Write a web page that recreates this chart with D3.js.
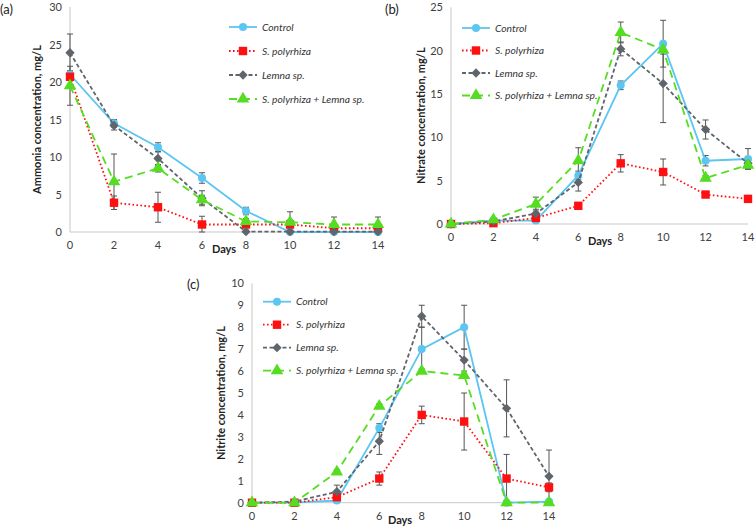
<!DOCTYPE html>
<html><head><meta charset="utf-8">
<script src="https://cdn.jsdelivr.net/npm/d3@7"></script>
<style>body{margin:0;background:#fff}svg{display:block}text{font-family:Lato,"Open Sans",sans-serif}</style>
</head><body>
<svg id="chart" width="756" height="529"></svg>
<script>
const days = [0, 2, 4, 6, 8, 10, 12, 14];
const seriesNames = ["Control", "S. polyrhiza", "Lemna sp.", "S. polyrhiza + Lemna sp."];

// (a) Ammonia
const ammoniaControl = [21.0, 14.5, 11.3, 7.2, 2.8, 0, 0, 0];
const ammoniaSpol    = [20.7, 3.9, 3.3, 1.0, 1.0, 1.0, 0.5, 0.5];
const ammoniaLemna   = [23.9, 14.2, 9.8, 4.5, 0.05, 0.05, 0.05, 0.05];
const ammoniaMix     = [19.5, 6.7, 8.5, 4.3, 1.4, 1.3, 1.0, 1.0];
const ammoniaControlErr = [0.5, 0.5, 0.6, 0.7, 0.5, 0.3, 0, 0];
const ammoniaSpolErr    = [0.5, 0.9, 2.0, 1.1, 0.3, 0.6, 0.3, 0.3];
const ammoniaLemnaErr   = [2.5, 0.6, 0.9, 1.0, 0.2, 0, 0, 0];
const ammoniaMixErr     = [2.6, 3.7, 0.5, 0.6, 0.4, 1.4, 1.0, 1.0];
const ammoniaTicks = [0, 5, 10, 15, 20, 25, 30];

// (b) Nitrate
const nitrateControl = [0, 0.4, 0.4, 5.6, 16.0, 20.8, 7.3, 7.5];
const nitrateSpol    = [0, 0.1, 0.7, 2.1, 7.0, 6.0, 3.4, 2.9];
const nitrateLemna   = [0, 0.3, 1.2, 4.8, 20.2, 16.2, 10.9, 7.0];
const nitrateMix     = [0, 0.5, 2.3, 7.3, 22.1, 20.1, 5.3, 6.8];
const nitrateControlErr = [0, 0.1, 0.2, 0.5, 0.5, 2.7, 0.6, 1.2];
const nitrateSpolErr    = [0, 0.1, 0.2, 0.3, 1.0, 1.5, 0.3, 0.2];
const nitrateLemnaErr   = [0, 0.1, 0.5, 1.0, 0.8, 4.5, 1.1, 0.5];
const nitrateMixErr     = [0, 0.2, 0.8, 1.5, 1.2, 0.5, 0.3, 0.4];
const nitrateTicks = [0, 5, 10, 15, 20, 25];

// (c) Nitrite
const nitriteControl = [0, 0, 0.1, 3.4, 7.0, 8.0, 0, 0.05];
const nitriteSpol    = [0, 0, 0.25, 1.1, 4.0, 3.7, 1.1, 0.7];
const nitriteLemna   = [0, 0.05, 0.5, 2.8, 8.5, 6.5, 4.3, 1.2];
const nitriteMix     = [0, 0, 1.4, 4.4, 6.0, 5.8, 0, 0];
const nitriteControlErr = [0, 0, 0.1, 0.2, 1.0, 1.0, 0, 0];
const nitriteSpolErr    = [0, 0, 0.1, 0.3, 0.4, 1.3, 1.1, 0.2];
const nitriteLemnaErr   = [0, 0, 0.3, 0.6, 0.5, 0.5, 1.3, 1.2];
const nitriteMixErr     = [0, 0, 0.1, 0.1, 0.1, 0.1, 0, 0];
const nitriteTicks = [0, 1, 2, 3, 4, 5, 6, 7, 8, 9, 10];

const styles = [
  {color: "#5bc6f2", dash: null, marker: "circle"},
  {color: "#ff1010", dash: "1.6,2.4", marker: "square"},
  {color: "#60656b", dash: "4,2.5", marker: "diamond"},
  {color: "#55dd22", dash: "8,5", marker: "triangle"}
];

const svg = d3.select("#chart");

function drawMarker(g, type, x, y, color) {
  if (type === "circle") g.append("circle").attr("cx", x).attr("cy", y).attr("r", 4).attr("fill", color);
  else if (type === "square") g.append("rect").attr("x", x - 4.2).attr("y", y - 4.2).attr("width", 8.4).attr("height", 8.4).attr("fill", color);
  else if (type === "diamond") g.append("path").attr("d", d3.symbol(d3.symbolDiamond2, 55)()).attr("transform", `translate(${x},${y})`).attr("fill", color);
  else g.append("path").attr("d", d3.symbol(d3.symbolTriangle, 68)()).attr("transform", `translate(${x},${y})`).attr("fill", color);
}

function panel(cfg) {
  const x = d3.scaleLinear().domain([0, 14]).range([cfg.x0, cfg.x1]);
  const y = d3.scaleLinear().domain([0, cfg.ymax]).range([cfg.y0, cfg.y1]);
  const g = svg.append("g");
  g.append("line").attr("x1", cfg.x0).attr("x2", cfg.x0).attr("y1", cfg.y0).attr("y2", cfg.y1).attr("stroke", "#c8c8c8").attr("stroke-width", 1);
  g.append("line").attr("x1", cfg.x0).attr("x2", cfg.x1).attr("y1", cfg.y0).attr("y2", cfg.y0).attr("stroke", "#c8c8c8").attr("stroke-width", 1);
  g.selectAll(".yt").data(cfg.yticks).enter().append("text")
    .attr("x", cfg.x0 - 8).attr("y", d => y(d) + 4).attr("text-anchor", "end")
    .attr("font-size", 11).attr("fill", "#404040").text(d => d);
  g.selectAll(".xt").data(days).enter().append("text")
    .attr("x", d => x(d)).attr("y", cfg.y0 + 17).attr("text-anchor", "middle")
    .attr("font-size", 11).attr("fill", "#404040").text(d => d);
  g.append("text").attr("x", cfg.daysX).attr("y", cfg.y0 + 21).attr("text-anchor", "middle")
    .attr("font-size", 11).attr("font-weight", "bold").attr("fill", "#222").text("Days");
  g.append("text").attr("transform", `translate(${cfg.titleX},${(cfg.y0 + cfg.y1) / 2}) rotate(-90)`)
    .attr("text-anchor", "middle").attr("font-size", 11).attr("font-weight", "bold").attr("fill", "#222").text(cfg.title);
  g.append("text").attr("x", cfg.labX).attr("y", cfg.labY).attr("font-size", 13).attr("fill", "#222").text(cfg.label);

  const line = d3.line().x((d, i) => x(days[i])).y(d => y(d));
  cfg.series.forEach((vals, si) => {
    const errs = cfg.errs[si];
    vals.forEach((v, i) => {
      const e = errs[i];
      if (e <= 0) return;
      const xe = x(days[i]);
      const lo = Math.max(0, v - e), hi = v + e;
      g.append("line").attr("x1", xe).attr("x2", xe).attr("y1", y(lo)).attr("y2", y(hi)).attr("stroke", "#555").attr("stroke-width", 1);
      [lo, hi].forEach(t => g.append("line").attr("x1", xe - 3).attr("x2", xe + 3).attr("y1", y(t)).attr("y2", y(t)).attr("stroke", "#555").attr("stroke-width", 1));
    });
  });
  cfg.series.forEach((vals, si) => {
    const st = styles[si];
    const p = g.append("path").datum(vals).attr("d", line).attr("fill", "none")
      .attr("stroke", st.color).attr("stroke-width", 1.8);
    if (st.dash) p.attr("stroke-dasharray", st.dash);
    vals.forEach((v, i) => drawMarker(g, st.marker, x(days[i]), y(v), st.color));
  });
  seriesNames.forEach((name, si) => {
    const st = styles[si];
    const ly = cfg.legY + si * cfg.legDy;
    const l = g.append("line").attr("x1", cfg.legX).attr("x2", cfg.legX + 28).attr("y1", ly).attr("y2", ly)
      .attr("stroke", st.color).attr("stroke-width", 1.8);
    if (st.dash) l.attr("stroke-dasharray", st.dash);
    drawMarker(g, st.marker, cfg.legX + 14, ly, st.color);
    g.append("text").attr("x", cfg.legX + 33).attr("y", ly + 3.5).attr("font-size", 10.3)
      .attr("font-style", "italic").attr("fill", "#333").text(name);
  });
}

panel({x0: 70, x1: 378, y0: 232, y1: 7, ymax: 30, yticks: ammoniaTicks,
  series: [ammoniaControl, ammoniaSpol, ammoniaLemna, ammoniaMix],
  errs: [ammoniaControlErr, ammoniaSpolErr, ammoniaLemnaErr, ammoniaMixErr],
  title: "Ammonia concentration, mg/L", titleX: 41, daysX: 224, label: "(a)", labX: 0, labY: 14,
  legX: 229, legY: 27, legDy: 24});

panel({x0: 451, x1: 748, y0: 224, y1: 7.3, ymax: 25, yticks: nitrateTicks,
  series: [nitrateControl, nitrateSpol, nitrateLemna, nitrateMix],
  errs: [nitrateControlErr, nitrateSpolErr, nitrateLemnaErr, nitrateMixErr],
  title: "Nitrate concentration, mg/L", titleX: 425, daysX: 600, label: "(b)", labX: 385, labY: 14,
  legX: 462, legY: 28, legDy: 22.5});

panel({x0: 252, x1: 549, y0: 502.7, y1: 283.3, ymax: 10, yticks: nitriteTicks,
  series: [nitriteControl, nitriteSpol, nitriteLemna, nitriteMix],
  errs: [nitriteControlErr, nitriteSpolErr, nitriteLemnaErr, nitriteMixErr],
  title: "Nitrite concentration, mg/L", titleX: 225, daysX: 400, label: "(c)", labX: 187, labY: 289,
  legX: 263, legY: 301.7, legDy: 23});
</script>
</body></html>
